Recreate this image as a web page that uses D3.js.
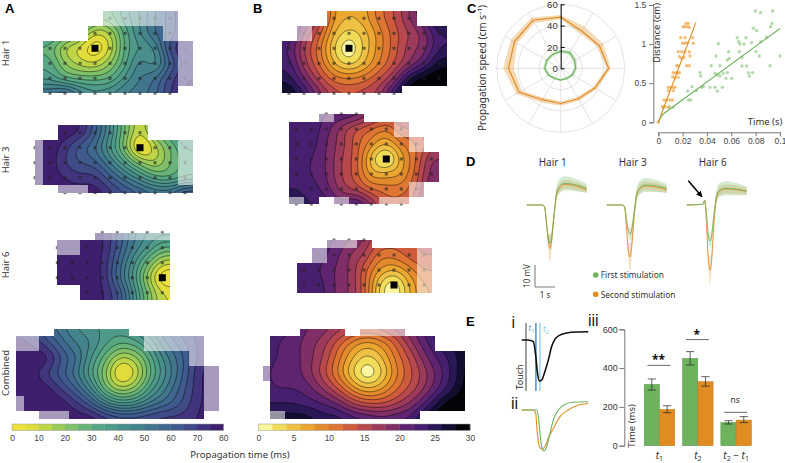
<!DOCTYPE html>
<html>
<head>
<meta charset="utf-8">
<script src="https://cdn.jsdelivr.net/npm/d3@7"></script>
<style>
  body { margin: 0; background: #fff; }
  svg { display: block; font-family: 'Noto Sans', sans-serif; fill: #333; }
  .tick text { font-size: 8.5px; fill: #444; }
  .grey path.domain, .grey .tick line { stroke: #777; }
</style>
</head>
<body>
<div id="chart"></div>
<script>
// propagation time maps, one value per electrode (ms)
const a1Values = [
  [40, 40, 35, 28, 28, 38, 45, 55, 62, 70],
  [38, 32, 25, 10, 15, 32, 45, 55, 62, 70],
  [28, 14, 8, 0, 10, 32, 40, 45, 68, 75],
  [33, 20, 13, 10, 20, 33, 48, 42, 60, 72],
  [38, 30, 28, 28, 30, 42, 50, 55, 68, 75],
  [55, 60, 48, 42, 45, 50, 53, 58, 70, 75],
];
const a1Mask = ['....+++++.', '...#####+.', '#########+', '#########+', '#########+', '#########.'];

const a3Values = [
  [78, 78, 78, 75, 62, 45, 25, 10, 25, 35, 42],
  [78, 78, 72, 62, 55, 40, 22, 0, 12, 25, 35],
  [78, 78, 70, 65, 62, 50, 36, 22, 15, 25, 33],
  [80, 78, 75, 72, 72, 62, 52, 42, 32, 30, 35],
  [80, 80, 78, 78, 78, 72, 65, 60, 55, 55, 65],
];
const a3Mask = ['..######...', '+#########+', '+#########+', '+#########+', '..++#######'];

const a6Values = [
  [78, 78, 78, 76, 65, 52, 45, 42],
  [78, 78, 78, 76, 64, 50, 40, 30],
  [78, 78, 78, 75, 60, 43, 27, 12],
  [78, 78, 78, 75, 58, 40, 18, 0],
  [78, 78, 78, 76, 66, 46, 25, 10],
];
const a6Mask = ['...+++++', '++######', '########', '########', '..######'];

const aAllValues = [
  [70, 70, 60, 52, 45, 42, 38, 38, 42, 50, 60, 68, 72, 75, 75],
  [78, 75, 68, 58, 50, 45, 36, 30, 33, 42, 55, 62, 70, 75, 75],
  [78, 78, 78, 65, 56, 40, 26, 13, 18, 33, 48, 58, 70, 75, 75],
  [78, 78, 70, 62, 52, 36, 20, 2, 11, 30, 45, 58, 72, 78, 78],
  [78, 78, 78, 70, 60, 46, 26, 16, 22, 38, 50, 62, 72, 78, 78],
  [78, 78, 78, 78, 72, 62, 48, 40, 43, 52, 58, 65, 73, 78, 78],
  [78, 78, 78, 78, 78, 78, 72, 68, 68, 70, 72, 72, 75, 78, 78],
];
const aAllMask = [
  '.....##########............',
  '+++##############++++++++..',
  '+++##############++++++++..',
  '#######################++..',
  '#######################++..',
  '#########################++',
  '#########################++',
  '#########################++',
  '#########################++',
  '+########################++',
  '+########################++',
  '...++++##################..',
];

const b1Values = [
  [24, 20, 16, 8, 6, 7, 11, 14, 18, 22, 28],
  [24, 18, 13, 6, 3, 5, 9, 13, 16, 19, 24],
  [22, 16, 11, 4, 0, 4.5, 9, 13, 17, 19, 24],
  [23, 17, 12, 6, 3, 6, 10, 14, 18, 22, 27],
  [25, 20, 15, 11, 10, 11, 14, 18, 26, 29, 30],
  [28, 24, 19, 15, 14, 15, 17, 24, 30, 30, 30],
];
const b1Mask = ['...######..', '.+#########', '###########', '###########', '###########', '########...'];

const b3Values = [
  [23, 23, 22, 22, 21, 18, 16, 16, 16, 18],
  [23, 23, 21, 17, 14, 12, 10, 14, 14, 16],
  [23, 23, 20, 17, 13, 9, 6, 10, 12, 15],
  [23, 22, 20, 16, 13, 5, 0, 7, 12, 18],
  [23, 22, 20, 16, 13, 7, 7, 8, 13, 19],
  [24, 23, 21, 17, 15, 12, 11, 11, 14, 20],
  [25, 24, 23, 21, 23, 18, 13, 13, 15, 20],
];
const b3Mask = ['..+##.....', '#######+..', '########+.', '##########', '##########', '########+.', '+#.+##++..'];

const b6Values = [
  [23, 23, 22, 20, 18, 14, 13, 13, 15],
  [23, 23, 21, 18, 16, 11, 11, 13, 14],
  [23, 22, 20, 18, 13, 8, 6, 9, 12],
  [23, 23, 20, 18, 13, 4, 0, 6, 10],
];
const b6Mask = ['..++#....', '.+######+', '########+', '########+'];

const bAllValues = [
  [23, 23, 22, 20, 19, 17, 15, 14, 15, 17, 20, 23, 26, 28, 29],
  [23, 22, 21, 19, 17, 13, 9, 7, 9, 13, 18, 22, 25, 27, 28],
  [23, 22, 21, 19, 16, 11, 6, 3, 6, 11, 15, 20, 23, 26, 29],
  [23, 21, 21, 19, 15, 10, 4, 0, 4, 10, 14, 18, 22, 26, 30],
  [23, 22, 22, 21, 18, 14, 9, 6, 8, 12, 15, 19, 23, 27, 30],
  [24, 24, 24, 23, 22, 20, 16, 14, 14, 16, 19, 23, 28, 30, 30],
  [27, 27, 27, 27, 25, 25, 23, 22, 21, 22, 23, 28, 30, 30, 30],
];
const bAllMask = [
  '.....######..++++++........',
  '.######################....',
  '.######################....',
  '.##########################',
  '.##########################',
  '+##########################',
  '+##########################',
  '.##########################',
  '.##########################',
  '.##########################',
  '.##########################',
  '.++##################......',
];

// one colour per 5 ms bin (A) and 2 ms bin (B), taken from the colour bars
const viridisBins = ['#ede239', '#e0dc3c', '#bfd548', '#9dcb58', '#7fc068', '#68b478', '#58a784', '#4f9b89', '#498e8b', '#44828c', '#41758d', '#3f688e', '#3f5a8c', '#404a87', '#41347c', '#3e1f6e'];
const infernoBins = ['#fbf7a0', '#f1dc5a', '#eec044', '#eba730', '#e38a2c', '#de7533', '#cf5b3d', '#b7484e', '#9c3a5b', '#7f2f66', '#5f2470', '#46206e', '#2a1755', '#120e30', '#040308'];

// panel C, polar plot (every 30 degrees from north, clockwise)
const polarAngles = d3.range(0, 360, 30);
const polarTicks = [0, 20, 40, 60];
const orangeSpeed = [48, 40, 42, 45, 37, 33, 33, 34, 45, 49, 50, 52];
const orangeSpeedHi = [50, 45, 46, 47, 39, 35, 35, 37, 48, 54, 54, 55];
const orangeSpeedLo = [46, 37, 40, 43, 35, 31, 31, 32, 42, 44, 47, 49];
const greenSpeed = [16, 17, 15, 14, 12.5, 11, 11, 11, 13, 15, 15, 15];
const greenSpeedHi = [18, 19, 17, 15.5, 14, 12.5, 12, 12.5, 14.5, 16.5, 16.5, 16.5];
const greenSpeedLo = [14, 15, 13.5, 12.5, 11, 9.5, 10, 9.5, 11.5, 13.5, 13.5, 13.5];

// panel C, distance vs time scatter
const greenTime = [.0797, .0841, .0939, .0934, .0923, .0781, .0808, .0649, .072, .066, .0671, .0704, .0493, .0767, .0841, .089, .0578, .0666, .0803, .083, .1, .0474, .0583, .0567, .0687, .0687, .0726, .0507, .0435, .0918, .0567, .0534, .0466, .0485, .0507, .0342, .0348, .074, .0775, .0748, .0603, .0556, .0277, .0241, .0315, .0356, .037, .0425, .0466, .0526, .0485, .0247, .0266, .0123, .009, .004];
const greenDist = [1.423, 1.402, 1.423, 1.265, 1.223, 1.202, 1.172, 1.082, 1.082, 1.031, 1.001, 1.001, 1.005, 1.018, 1.031, 1.087, .903, .903, .903, .848, .848, .848, .818, .797, .831, .72, .72, .724, .724, .724, .635, .626, .626, .605, .592, .635, .592, .635, .635, .592, .562, .562, .456, .4, .405, .447, .456, .447, .447, .447, .4, .285, .285, .191, .2, .19];
const orangeTime = [.0227, .0247, .0205, .0219, .0238, .0255, .0184, .0219, .0282, .02, .0219, .0238, .0288, .0164, .0192, .0219, .0255, .0173, .0192, .0211, .026, .0151, .0164, .0233, .0255, .0123, .0145, .0156, .0173, .0118, .0137, .0164, .0082, .0101, .0123, .0137, .0082, .0123, .0047, .0068, .0096, .0118, .0036, .0055, .0082, 0];
const orangeDist = [1.265, 1.265, 1.223, 1.223, 1.223, 1.215, 1.082, 1.082, 1.082, 1.01, 1.01, 1.018, 1.01, .903, .903, .903, .903, .839, .82, .83, .848, .724, .724, .724, .724, .635, .635, .626, .635, .583, .565, .575, .447, .447, .447, .447, .405, .405, .285, .285, .285, .285, .2, .2, .191, 0];
const orangeFitT = [0, .0309];
const orangeFitD = [0, 1.278];
const greenFitT = [0, .0035, .1];
const greenFitD = [0, .1, 1.2];

// panel D, mean voltage traces (mV) on a shared time base (s)
const traceTime = [0, .8, .9, 1, 1.08, 1.17, 1.25, 1.33, 1.42, 1.5, 1.67, 1.92, 2.33, 3];
const hair1First = [0, 0, -1, -9, -15, -17.7, -15, -8, 0, 6, 9, 10, 9.5, 7.7];
const hair1Second = [0, 0, -1.2, -10, -17, -20, -16, -8.5, -.5, 5, 8, 9.5, 9, 7];
const hair3First = [0, 0, -1, -7, -12, -13.5, -11.5, -6.5, 0, 5, 8, 9.2, 9, 7.7];
const hair3Second = [0, 0, -1.5, -12, -21, -24, -19, -10, -1, 4.5, 7.5, 8.8, 8.5, 7];
const hair6First = [0, .3, 2.3, -5, -14, -16.6, -14, -7, 0, 4.5, 7, 7.7, 7.5, 6.5];
const hair6Second = [0, .3, 1.5, -10, -25, -30, -25, -13, -2, 3.5, 6.5, 7.4, 7.2, 6.3];
const firstBand = [0, 0, .5, 1, 2, 3, 3, 2.5, 2.5, 3, 3.2, 3.2, 3, 2];
const secondBand = [0, 0, .5, 1.5, 3.5, 6.5, 4.5, 3, 2, 2, 2, 2, 2, 1.5];

// panel E, schematic response curves (ms, normalised)
const touchTime = [-140, 75, 237, 312, 366, 430, 505, 613, 720, 827, 935, 1096, 1311, 1634, 2010];
const touchValue = [0, 0, -.04, -.37, -.78, -1, -.98, -.76, -.49, -.16, .02, .12, .17, .195, .2];
const secondTime = [-140, 237, 312, 366, 430, 505, 613, 720, 882, 1097, 1365, 1688, 2010];
const secondValue = [0, 0, -.08, -.57, -.89, -.95, -.89, -.69, -.45, -.16, 0, .12, .16];
const firstTime = [-140, 344, 398, 452, 505, 581, 667, 774, 882, 1043, 1258, 1527, 2010];
const firstValue = [0, 0, -.16, -.57, -.89, -1, -.89, -.57, -.24, 0, .14, .19, .2];
const markerTimes = [320, 450];

// panel E, bars (ms)
const barGroups = ['t1', 't2', 't2-t1'];
const barFirst = [316, 450, 120];
const barFirstHi = [344, 485, 129];
const barFirstLo = [287, 416, 112];
const barSecond = [187, 330, 132];
const barSecondHi = [206, 356, 150];
const barSecondLo = [170, 307, 119];
const sigLevels = [414, 547, 172];
const sigLabels = ['**', '*', 'ns'];

const GREEN = '#6db35e';
const ORANGE = '#e08c22';

const svg = d3.select('#chart').append('svg').attr('width', 785).attr('height', 463);

function label(text, x, y, size, opts) {
  const o = opts || {};
  return svg
    .append('text')
    .attr('transform', `translate(${x},${y})${o.rotate ? ' rotate(-90)' : ''}`)
    .attr('text-anchor', o.anchor || 'middle')
    .attr('font-size', size)
    .attr('font-weight', o.weight || null)
    .attr('font-family', o.family || null)
    .style('fill', o.fill || '#333')
    .text(text);
}

const catmull = (a, b, c, d, t) => 0.5 * (2 * b + (c - a) * t + (2 * a - 5 * b + 4 * c - d) * t * t + (3 * b - a - 3 * c + d) * t * t * t);

// smooth the electrode grid so the contours are round, one sample either side as margin
function upsample(values, factor) {
  const m = values.length, n = values[0].length;
  const w = (n + 1) * factor + 1, h = (m + 1) * factor + 1;
  const at = (r, c) => values[Math.max(0, Math.min(m - 1, r))][Math.max(0, Math.min(n - 1, c))];
  const out = new Array(w * h);
  for (let j = 0; j < h; j++) {
    const v = -1 + j / factor, r = Math.floor(v), tv = v - r;
    for (let i = 0; i < w; i++) {
      const u = -1 + i / factor, c = Math.floor(u), tu = u - c;
      const col = [-1, 0, 1, 2].map((k) => catmull(at(r + k, c - 1), at(r + k, c), at(r + k, c + 1), at(r + k, c + 2), tu));
      out[j * w + i] = catmull(col[0], col[1], col[2], col[3], tv);
    }
  }
  const blurred = d3.blur2({ data: out, width: w, height: h }, 3).data;
  return { out: Array.from(blurred, (d) => Math.max(0, d)), w, h };
}

let clipId = 0;
function drawMap(map, thresholds, color) {
  const { values, mask, x0, y0 } = map;
  const pitch = map.pitch || 15;
  const cell = map.cell || pitch;
  const maskX = map.maskX !== undefined ? map.maskX : x0 - pitch / 2;
  const maskY = map.maskY !== undefined ? map.maskY : y0 - pitch / 2;
  const trim = map.trim || {};
  const factor = 10;

  // cells of the mask as rectangles, trimmed where the array edge cuts through the electrodes
  const cells = [];
  mask.forEach((row, j) => {
    row.split('').forEach((ch, i) => {
      if (ch === '.') return;
      let xa = maskX + i * cell, xb = xa + cell, ya = maskY + j * cell, yb = ya + cell;
      if (trim.left) xa = Math.max(xa, x0);
      if (trim.top) ya = Math.max(ya, y0);
      if (trim.bottom) yb = Math.min(yb, y0 + (values.length - 1) * pitch);
      // whole pixels, otherwise the neighbouring rectangles show seams
      xa = Math.round(xa);
      xb = Math.round(xb);
      ya = Math.round(ya);
      yb = Math.round(yb);
      cells.push({ ch, i, j, xa, xb, ya, yb });
    });
  });

  const id = `clip-${clipId++}`;
  svg
    .append('clipPath')
    .attr('id', id)
    .selectAll('rect')
    .data(cells)
    .join('rect')
    .attr('x', (d) => d.xa)
    .attr('y', (d) => d.ya)
    .attr('width', (d) => d.xb - d.xa)
    .attr('height', (d) => d.yb - d.ya);

  const grid = upsample(values, factor);
  const contours = d3.contours().size([grid.w, grid.h]).thresholds(thresholds)(grid.out);
  const path = d3.geoPath(
    d3.geoTransform({
      point(x, y) {
        this.stream.point(x0 + (-1 + (x - 0.5) / factor) * pitch, y0 + (-1 + (y - 0.5) / factor) * pitch);
      },
    })
  );

  const g = svg.append('g').attr('clip-path', `url(#${id})`);
  g.selectAll('path')
    .data(contours)
    .join('path')
    .attr('d', path)
    .attr('fill', (d) => color(d.value))
    .attr('stroke', (d, i) => (i === 0 ? 'none' : '#000'))
    .attr('stroke-width', 0.55)
    .attr('stroke-opacity', 0.85);

  // electrodes
  if (map.peak) {
    svg
      .append('g')
      .selectAll('rect')
      .data(cells)
      .join('rect')
      .attr('x', (d) => x0 + d.i * pitch - 1.5)
      .attr('y', (d) => y0 + d.j * pitch - 1.5)
      .attr('width', 3)
      .attr('height', 3)
      .attr('fill', '#222')
      .attr('opacity', 0.6);
  }

  // translucent cells washed out with white
  svg
    .append('g')
    .selectAll('rect')
    .data(cells.filter((d) => d.ch === '+'))
    .join('rect')
    .attr('x', (d) => d.xa)
    .attr('y', (d) => d.ya)
    .attr('width', (d) => d.xb - d.xa)
    .attr('height', (d) => d.yb - d.ya)
    .attr('fill', '#fff')
    .attr('opacity', 0.55);

  if (map.peak) {
    svg
      .append('rect')
      .attr('x', x0 + map.peak[0] * pitch - 3.5)
      .attr('y', y0 + map.peak[1] * pitch - 3.5)
      .attr('width', 7)
      .attr('height', 7)
      .attr('fill', '#000');
  }
}

function drawColorbar(x0, x1, y, maxValue, step, color, ticks) {
  const scale = d3.scaleLinear().domain([0, maxValue]).range([x0, x1]);
  svg
    .append('g')
    .selectAll('rect')
    .data(d3.range(0, maxValue, step))
    .join('rect')
    .attr('x', (d) => scale(d))
    .attr('y', y)
    .attr('width', scale(step) - scale(0) + 0.3)
    .attr('height', 6.5)
    .attr('fill', (d) => color(d));
  svg.append('rect').attr('x', x0).attr('y', y).attr('width', x1 - x0).attr('height', 6.5).attr('fill', 'none').attr('stroke', '#999').attr('stroke-width', 0.5);
  svg
    .append('g')
    .attr('transform', `translate(0,${y + 6.5})`)
    .call(d3.axisBottom(scale).tickValues(ticks).tickSize(0).tickPadding(4).tickFormat(d3.format('d')))
    .call((g) => g.select('.domain').remove());
}

// A
const colorA = (t) => viridisBins[t / 5];
const thresholdsA = d3.range(0, 80, 5);
drawMap({ values: a1Values, mask: a1Mask, x0: 50, y0: 18.3, trim: { bottom: true }, peak: [3, 2] }, thresholdsA, colorA);
drawMap({ values: a3Values, mask: a3Mask, x0: 35, y0: 132.7, trim: { left: true, bottom: true }, peak: [7, 1] }, thresholdsA, colorA);
drawMap({ values: a6Values, mask: a6Mask, x0: 57.3, y0: 232.7, trim: { left: true, top: true }, peak: [7, 3] }, thresholdsA, colorA);
drawMap({ values: aAllValues, mask: aAllMask, x0: 16, y0: 328.5, cell: 7.5, maskX: 16, maskY: 328.5 }, thresholdsA, colorA);
drawColorbar(12, 223.3, 424, 80, 5, colorA, d3.range(0, 81, 10));

// B
const colorB = (t) => infernoBins[t / 2];
const thresholdsB = d3.range(0, 30, 2);
drawMap({ values: b1Values, mask: b1Mask, x0: 289, y0: 18.3, trim: { bottom: true }, peak: [4, 2] }, thresholdsB, colorB);
drawMap({ values: b3Values, mask: b3Mask, x0: 296.3, y0: 114, trim: { top: true, bottom: true }, peak: [6, 3] }, thresholdsB, colorB);
drawMap({ values: b6Values, mask: b6Mask, x0: 304, y0: 240, trim: { top: true }, peak: [6, 3] }, thresholdsB, colorB);
drawMap({ values: bAllValues, mask: bAllMask, x0: 262.5, y0: 328.5, cell: 7.5, maskX: 262.5, maskY: 328.5 }, thresholdsB, colorB);
drawColorbar(258.3, 470, 424, 30, 2, colorB, d3.range(0, 31, 5));

label('Propagation time (ms)', 240, 458, 9.5);
[['Hair 1', 53], ['Hair 3', 160], ['Hair 6', 265], ['Combined', 373]].forEach(([t, y]) => label(t, 9, y, 9.5, { rotate: true }));

const panelFont = { weight: 700, family: "'Liberation Sans', sans-serif", fill: '#000', anchor: 'start' };
[['A', 5, 13], ['B', 253, 13], ['C', 467, 13], ['D', 466, 166], ['E', 466, 326]].forEach(([t, x, y]) => label(t, x, y, 13, panelFont));

// C polar
const polarCx = 560.7, polarCy = 68.3;
const rScale = d3.scaleLinear().domain([0, 60]).range([0, 64]);
const polar = svg.append('g').attr('transform', `translate(${polarCx},${polarCy})`);
polar
  .selectAll('circle')
  .data(polarTicks.slice(1))
  .join('circle')
  .attr('r', (d) => rScale(d))
  .attr('fill', 'none')
  .attr('stroke', '#dcdcdc')
  .attr('stroke-width', 0.8);
polar
  .selectAll('line.spoke')
  .data(polarAngles)
  .join('line')
  .attr('class', 'spoke')
  .attr('x2', (d) => rScale(60) * Math.sin((d * Math.PI) / 180))
  .attr('y2', (d) => -rScale(60) * Math.cos((d * Math.PI) / 180))
  .attr('stroke', '#dcdcdc')
  .attr('stroke-width', 0.8);

const radial = d3
  .lineRadial()
  .angle((d, i) => (polarAngles[i] * Math.PI) / 180)
  .radius((d) => rScale(d))
  .curve(d3.curveLinearClosed);

[[orangeSpeed, orangeSpeedHi, orangeSpeedLo, ORANGE], [greenSpeed, greenSpeedHi, greenSpeedLo, GREEN]].forEach(([mean, hi, lo, c]) => {
  polar.append('path').attr('d', radial(hi) + radial(lo)).attr('fill', c).attr('fill-opacity', 0.32).attr('fill-rule', 'evenodd');
  polar.append('path').attr('d', radial(mean)).attr('fill', 'none').attr('stroke', c).attr('stroke-width', 1.2);
});

polar
  .append('g')
  .call(
    d3
      .axisLeft(d3.scaleLinear().domain([0, 60]).range([0, -rScale(60)]))
      .tickValues(polarTicks)
      .tickSizeInner(-4)
      .tickSizeOuter(0)
      .tickPadding(3)
  )
  .call((g) => g.selectAll('.tick text').attr('x', -3).style('font-size', '9.5px').style('fill', '#333'));

label('Propagation speed (cm s\u207B\u00B9)', 486, 68, 10, { rotate: true });

// C scatter
const xTime = d3.scaleLinear().domain([0, 0.1]).range([658.3, 780]);
const yDist = d3.scaleLinear().domain([0, 1.5]).range([122.3, 5]);
svg
  .append('g')
  .attr('class', 'grey')
  .attr('transform', 'translate(653.3,0)')
  .call(d3.axisLeft(yDist).tickValues([0, 0.5, 1, 1.5]).tickFormat(d3.format('~g')).tickSize(4));
svg
  .append('g')
  .attr('class', 'grey')
  .attr('transform', 'translate(0,132.3)')
  .call(d3.axisBottom(xTime).tickValues([0, 0.02, 0.04, 0.06, 0.08, 0.1]).tickFormat(d3.format('~g')).tickSize(4).tickPadding(2));

svg
  .append('g')
  .selectAll('circle')
  .data(greenTime)
  .join('circle')
  .attr('cx', (d) => xTime(d))
  .attr('cy', (d, i) => yDist(greenDist[i]))
  .attr('r', 1.7)
  .attr('fill', GREEN)
  .attr('opacity', 0.5);
svg
  .append('g')
  .selectAll('circle')
  .data(orangeTime)
  .join('circle')
  .attr('cx', (d) => xTime(d))
  .attr('cy', (d, i) => yDist(orangeDist[i]))
  .attr('r', 1.7)
  .attr('fill', '#eca545')
  .attr('opacity', 0.7);

const fitLine = d3
  .line()
  .x((d) => xTime(d[0]))
  .y((d) => yDist(d[1]));
svg.append('path').attr('d', fitLine(d3.zip(greenFitT, greenFitD))).attr('fill', 'none').attr('stroke', GREEN).attr('stroke-width', 1.1);
svg.append('path').attr('d', fitLine(d3.zip(orangeFitT, orangeFitD))).attr('fill', 'none').attr('stroke', ORANGE).attr('stroke-width', 1.1);
label('Distance (cm)', 660, 33, 9.5, { rotate: true });
label('Time (s)', 765, 125, 9.5);

// D traces
const xTrace = d3.scaleLinear().domain([0, 3]).range([0, 60]);
const yTrace = d3.scaleLinear().domain([0, 10]).range([205, 183.3]);
const traceLine = d3
  .line()
  .x((d, i) => xTrace(traceTime[i]))
  .y((d) => yTrace(d))
  .curve(d3.curveMonotoneX);
const traceArea = d3
  .area()
  .x((d, i) => xTrace(traceTime[i]))
  .y0((d) => yTrace(d[0]))
  .y1((d) => yTrace(d[1]))
  .curve(d3.curveMonotoneX);

function drawTrace(x, title, first, second) {
  const g = svg.append('g').attr('transform', `translate(${x},0)`);
  const secondBounds = second.map((d, i) => [d - secondBand[i], d + secondBand[i]]);
  const firstBounds = first.map((d, i) => [d - firstBand[i], d + firstBand[i]]);
  g.append('path').attr('d', traceArea(secondBounds)).attr('fill', ORANGE).attr('fill-opacity', 0.25);
  g.append('path').attr('d', traceArea(firstBounds)).attr('fill', GREEN).attr('fill-opacity', 0.28);
  g.append('path').attr('d', traceLine(second)).attr('fill', 'none').attr('stroke', ORANGE).attr('stroke-width', 0.9);
  g.append('path').attr('d', traceLine(first)).attr('fill', 'none').attr('stroke', GREEN).attr('stroke-width', 0.9);
  label(title, x + 26, 166, 10);
}
drawTrace(526.7, 'Hair 1', hair1First, hair1Second);
drawTrace(606.7, 'Hair 3', hair3First, hair3Second);
drawTrace(686.7, 'Hair 6', hair6First, hair6Second);

svg
  .append('defs')
  .append('marker')
  .attr('id', 'arrowHead')
  .attr('viewBox', '0 0 10 10')
  .attr('refX', 9)
  .attr('refY', 5)
  .attr('markerWidth', 4)
  .attr('markerHeight', 4)
  .attr('orient', 'auto')
  .append('path')
  .attr('d', 'M0,0L10,5L0,10z')
  .attr('fill', '#000');
svg.append('line').attr('x1', 688.3).attr('y1', 180.7).attr('x2', 702).attr('y2', 196.7).attr('stroke', '#000').attr('stroke-width', 1.5).attr('marker-end', 'url(#arrowHead)');

svg.append('path').attr('d', 'M535,265V287H555').attr('fill', 'none').attr('stroke', '#555').attr('stroke-width', 0.8);
label('10 mV', 530, 276, 8, { rotate: true });
label('1 s', 545, 298, 8);
svg.append('circle').attr('cx', 595.7).attr('cy', 275).attr('r', 2.8).attr('fill', GREEN);
svg.append('circle').attr('cx', 595.7).attr('cy', 294.3).attr('r', 2.8).attr('fill', ORANGE);
label('First stimulation', 600.7, 278, 8.3, { anchor: 'start' });
label('Second stimulation', 600.7, 297.5, 8.3, { anchor: 'start' });

// E schematics
const xEvent = d3.scaleLinear().domain([0, 1000]).range([526, 557]);
const yTouch = d3.scaleLinear().domain([0, -1]).range([340, 381]);
const yCompare = d3.scaleLinear().domain([0, -1]).range([410, 451]);
const curve = (xs, y) =>
  d3
    .line()
    .x((d, i) => xEvent(xs[i]))
    .y((d) => y(d))
    .curve(d3.curveMonotoneX);

svg.append('line').attr('x1', xEvent(0)).attr('x2', xEvent(0)).attr('y1', 323).attr('y2', 391).attr('stroke', '#888').attr('stroke-width', 1.6);
svg.append('line').attr('x1', xEvent(markerTimes[0])).attr('x2', xEvent(markerTimes[0])).attr('y1', 323).attr('y2', 391).attr('stroke', '#3a7ab5').attr('stroke-width', 1.3);
svg.append('line').attr('x1', xEvent(markerTimes[1])).attr('x2', xEvent(markerTimes[1])).attr('y1', 323).attr('y2', 391).attr('stroke', '#86c9ea').attr('stroke-width', 1.3);
svg.append('path').attr('d', curve(touchTime, yTouch)(touchValue)).attr('fill', 'none').attr('stroke', '#111').attr('stroke-width', 1.6);
svg.append('path').attr('d', curve(secondTime, yCompare)(secondValue)).attr('fill', 'none').attr('stroke', ORANGE).attr('stroke-width', 1.1);
svg.append('path').attr('d', curve(firstTime, yCompare)(firstValue)).attr('fill', 'none').attr('stroke', GREEN).attr('stroke-width', 1.1);
label('Touch', 523, 377, 9, { rotate: true });

function subLabel(parts, x, y, size, fill) {
  const t = svg.append('text').attr('x', x).attr('y', y).attr('text-anchor', 'middle').attr('font-size', size).style('fill', fill || '#333');
  parts.forEach(([text, sub, italic]) => {
    t.append('tspan')
      .attr('font-style', italic ? 'italic' : null)
      .attr('font-size', sub ? size * 0.7 : size)
      .attr('baseline-shift', sub ? '-25%' : null)
      .text(text);
  });
}
subLabel([['t', false, true], ['1', true, false]], 531.5, 331, 8, '#6f9cc4');
subLabel([['t', false, true], ['2', true, false]], 546, 332, 8, '#86c9ea');

const romanFont = { anchor: 'start', family: "'Liberation Sans', sans-serif", fill: '#222' };
label('i', 511.5, 328, 16, romanFont);
label('ii', 511, 409, 16, romanFont);
label('iii', 588, 326, 16, romanFont);

// E bars
const yBar = d3.scaleLinear().domain([0, 600]).range([445.7, 329.3]);
const xGroup = d3.scaleBand().domain(barGroups).range([640.3, 755.3]);
svg
  .append('g')
  .attr('class', 'grey')
  .attr('transform', 'translate(624.3,0)')
  .call(d3.axisLeft(yBar).tickValues([0, 200, 400, 600]).tickSize(5).tickPadding(1.5))
  .call((g) => g.selectAll('.tick text').style('font-size', '9px').style('fill', '#333'));

const barW = 15.3;
const barSeries = [
  { offset: -barW, values: barFirst, hi: barFirstHi, lo: barFirstLo, fill: GREEN },
  { offset: 0, values: barSecond, hi: barSecondHi, lo: barSecondLo, fill: ORANGE },
];
barSeries.forEach((s) => {
  const cx = (d) => xGroup(d) + xGroup.bandwidth() / 2 + s.offset;
  const g = svg.append('g');
  g.selectAll('rect')
    .data(barGroups)
    .join('rect')
    .attr('x', cx)
    .attr('y', (d, i) => yBar(s.values[i]))
    .attr('width', barW)
    .attr('height', (d, i) => yBar(0) - yBar(s.values[i]))
    .attr('fill', s.fill)
    .attr('stroke', d3.color(s.fill).darker(0.5))
    .attr('stroke-width', 0.5);
  const err = g.selectAll('g').data(barGroups).join('g');
  err.append('line').attr('x1', (d) => cx(d) + barW / 2).attr('x2', (d) => cx(d) + barW / 2).attr('y1', (d, i) => yBar(s.lo[i])).attr('y2', (d, i) => yBar(s.hi[i])).attr('stroke', '#222').attr('stroke-width', 0.7);
  [s.lo, s.hi].forEach((arr) => {
    err.append('line').attr('x1', (d) => cx(d) + 3.5).attr('x2', (d) => cx(d) + barW - 3.5).attr('y1', (d, i) => yBar(arr[i])).attr('y2', (d, i) => yBar(arr[i])).attr('stroke', '#222').attr('stroke-width', 0.7);
  });
});

barGroups.forEach((d, i) => {
  const cx = xGroup(d) + xGroup.bandwidth() / 2;
  const y = yBar(sigLevels[i]);
  svg.append('line').attr('x1', cx - 12).attr('x2', cx + 11).attr('y1', y).attr('y2', y).attr('stroke', '#444').attr('stroke-width', 0.8);
  if (sigLabels[i] === 'ns') label('ns', cx - 1, y - 9, 8.5);
  else label(sigLabels[i], cx - 1, y - 1, 12, { weight: 700, fill: '#111' });
});

label('Time (ms)', 635, 426, 9.5, { rotate: true });
const tickY = 459;
subLabel([['t', false, true], ['1', true, false]], xGroup('t1') + xGroup.bandwidth() / 2, tickY, 10);
subLabel([['t', false, true], ['2', true, false]], xGroup('t2') + xGroup.bandwidth() / 2, tickY, 10);
subLabel([['t', false, true], ['2', true, false], [' \u2212 ', false, false], ['t', false, true], ['1', true, false]], xGroup('t2-t1') + xGroup.bandwidth() / 2, tickY, 10);
</script>
</body>
</html>
